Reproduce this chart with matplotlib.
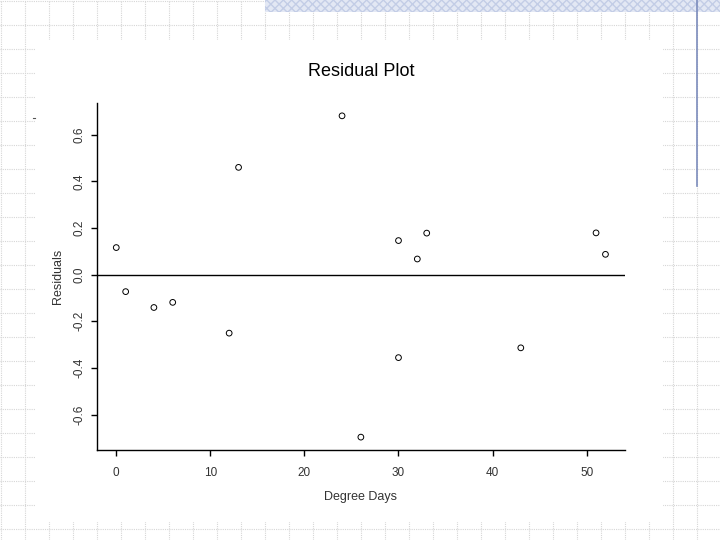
import numpy as np
import matplotlib.pyplot as plt
from matplotlib.patches import Rectangle

plt.rcParams['font.family'] = ['Liberation Sans', 'DejaVu Sans']

# data
degree_days = [0, 1, 4, 6, 12, 13, 24, 26, 30, 30, 32, 33, 43, 51, 52]
residuals = [0.116, -0.073, -0.141, -0.119, -0.251, 0.460, 0.681, -0.697,
             0.146, -0.356, 0.067, 0.178, -0.314, 0.179, 0.087]
x_ticks = [0, 10, 20, 30, 40, 50]
y_ticks = [-0.6, -0.4, -0.2, 0.0, 0.2, 0.4, 0.6]

fig = plt.figure(figsize=(7.2, 5.4), dpi=100)

# slide background: dotted grid, white picture box, blue header band
bg = fig.add_axes([0, 0, 1, 1], zorder=-1)
bg.set_xlim(0, 720)
bg.set_ylim(540, 0)
bg.axis('off')
for g in np.arange(1, 721, 24):
    bg.axvline(g, color='#d6d6d6', lw=0.8, ls=(0, (1, 1)), zorder=1)
for g in np.arange(1, 541, 24):
    bg.axhline(g, color='#d6d6d6', lw=0.8, ls=(0, (1, 1)), zorder=1)
bg.add_patch(Rectangle((36, 40), 627, 482, facecolor='white', edgecolor='none', zorder=2))
bg.add_patch(Rectangle((265, 0), 455, 12, facecolor='#e3e8f4', edgecolor='#c3cde6',
                       hatch='xxxx', lw=0, zorder=2))
bg.plot([697, 697], [0, 186], color='#7c8cbc', lw=1.2, zorder=3)
bg.plot([33, 35], [118, 118], color='#555555', lw=0.8, zorder=3)

ax = fig.add_axes([0.1343, 0.1667, 0.7338, 0.6426])
ax.set_facecolor('none')

ax.scatter(degree_days, residuals, s=17, facecolors='none', edgecolors='black',
           linewidths=0.7, zorder=3)
ax.axhline(0, color='black', lw=1)

# R style 4% padding
xr = max(degree_days) - min(degree_days)
yr = max(residuals) - min(residuals)
ax.set_xlim(min(degree_days) - 0.04 * xr, max(degree_days) + 0.04 * xr)
ax.set_ylim(min(residuals) - 0.04 * yr, max(residuals) + 0.04 * yr)

ax.spines['top'].set_visible(False)
ax.spines['right'].set_visible(False)
for s in ['left', 'bottom']:
    ax.spines[s].set_linewidth(1)

ax.set_xticks(x_ticks)
ax.set_yticks(y_ticks)
ax.set_yticklabels(['%.1f' % v for v in y_ticks], rotation=90, va='center')
ax.tick_params(axis='x', direction='out', length=4, width=1, pad=8,
               labelsize=8.5, labelcolor='#333333')
ax.tick_params(axis='y', direction='out', length=4, width=1, pad=4,
               labelsize=8.5, labelcolor='#333333')

ax.set_xlabel('Degree Days', fontsize=9, color='#333333', labelpad=9)
ax.set_ylabel('Residuals', fontsize=9, color='#333333', labelpad=7)
fig.text(0.5014, 1 - 71 / 540, 'Residual Plot', ha='center', va='center',
         fontsize=13, color='black')

fig.savefig('out.png', dpi=100)
